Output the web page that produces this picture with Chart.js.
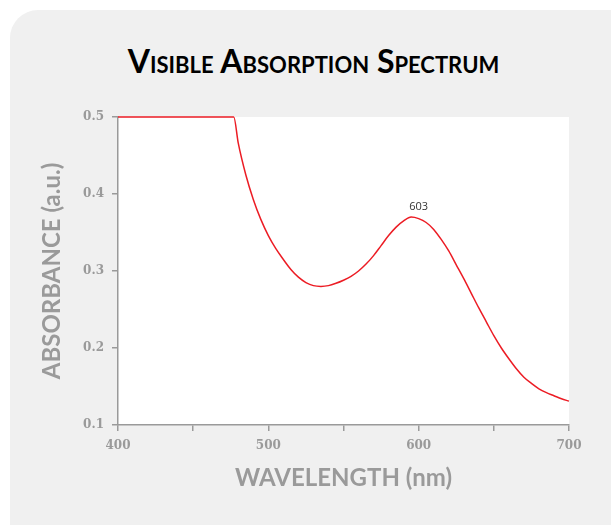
<!DOCTYPE html>
<html>
<head>
<meta charset="utf-8">
<script src="https://cdn.jsdelivr.net/npm/chart.js@4"></script>
<style>
  html, body { margin: 0; padding: 0; background: #fff; width: 611px; height: 525px; overflow: hidden; }
  .panel {
    position: absolute; left: 10px; top: 10px; width: 700px; height: 600px;
    background: #f0f0f0; border-radius: 28px;
  }
  h1 {
    position: absolute; left: 0; width: 627px; top: 41px; margin: 0;
    text-align: center; font-family: Lato, sans-serif; font-weight: 700;
    font-variant: small-caps; font-size: 32px; color: #000; letter-spacing: 0;
  }
  canvas { position: absolute; left: 0; top: 0; }
</style>
</head>
<body>
<div class="panel"></div>
<h1>Visible Absorption Spectrum</h1>
<canvas id="myChart" width="611" height="525"></canvas>
<script>
const wavelengths = [
    400, 420, 440, 460, 477, 480, 485, 490, 495, 500, 505, 510, 515, 520, 525,
    530, 535, 540, 545, 550, 555, 560, 565, 570, 575, 580, 585, 590, 595, 600,
    605, 610, 615, 620, 625, 630, 635, 640, 645, 650, 655, 660, 665, 670, 675,
    680, 685, 690, 695, 700
];
const absorbance = [
    0.500, 0.500, 0.500, 0.500, 0.500, 0.466, 0.425, 0.393, 0.367, 0.346, 0.329, 0.315, 0.302, 0.292, 0.285,
    0.281, 0.280, 0.281, 0.284, 0.288, 0.293, 0.300, 0.309, 0.320, 0.333, 0.346, 0.357, 0.365, 0.370, 0.368,
    0.363, 0.354, 0.341, 0.326, 0.308, 0.290, 0.271, 0.252, 0.234, 0.216, 0.200, 0.186, 0.173, 0.162, 0.154,
    0.147, 0.142, 0.138, 0.134, 0.131
];
const yTicks = [0.1, 0.2, 0.3, 0.4, 0.5];
const xLabelled = [400, 500, 600, 700];
const peakWavelength = 600;
const peakText = '603';

const gray = '#9a9a9a';

const points = wavelengths.map((w, i) => ({x: w, y: absorbance[i]}));

// white plot background + peak annotation
const plotDecor = {
    id: 'plotDecor',
    beforeDraw(chart) {
        const {ctx, chartArea: a} = chart;
        ctx.save();
        ctx.fillStyle = '#fff';
        ctx.fillRect(a.left, a.top, a.right - a.left, a.bottom - a.top);
        ctx.restore();
    },
    afterDatasetsDraw(chart) {
        const {ctx, scales} = chart;
        const i = wavelengths.indexOf(peakWavelength);
        const x = scales.x.getPixelForValue(peakWavelength);
        const y = scales.y.getPixelForValue(absorbance[i]);
        ctx.save();
        ctx.font = '11px "Open Sans", sans-serif';
        ctx.fillStyle = '#333';
        ctx.textAlign = 'center';
        ctx.textBaseline = 'middle';
        ctx.fillText(peakText, x, y - 12);
        ctx.restore();
    }
};

const config = {
    type: 'line',
    data: {
        datasets: [{
            data: points,
            borderColor: '#ec1c24',
            borderWidth: 1.5,
            pointRadius: 0,
            cubicInterpolationMode: 'monotone',
            clip: false
        }]
    },
    options: {
        responsive: false,
        animation: false,
        events: [],
        layout: { padding: { top: 117, right: 42, left: 0, bottom: 0 } },
        plugins: { legend: { display: false }, tooltip: { enabled: false } },
        scales: {
            x: {
                type: 'linear', min: 400, max: 700,
                afterFit(scale) { scale.height = 100; },
                border: { color: gray, width: 1.5 },
                grid: { drawOnChartArea: false, drawTicks: true, tickLength: 6, color: gray, lineWidth: 1.5 },
                ticks: {
                    stepSize: 50, padding: 8, color: gray,
                    font: { family: '"DejaVu Serif", serif', weight: 'bold', size: 12 },
                    maxRotation: 0,
                    callback: v => xLabelled.includes(v) ? String(v) : ''
                },
                title: {
                    display: true, text: 'WAVELENGTH (nm)', color: gray,
                    font: { family: 'Lato, sans-serif', weight: 'bold', size: 24, lineHeight: 1 },
                    padding: { top: 0, bottom: 35 }
                }
            },
            y: {
                type: 'linear', min: 0.1, max: 0.5,
                afterFit(scale) { scale.width = 118; },
                afterBuildTicks(scale) { scale.ticks = yTicks.map(v => ({value: v})); },
                border: { color: gray, width: 1.5 },
                grid: { drawOnChartArea: false, drawTicks: true, tickLength: 6, color: gray, lineWidth: 1.5 },
                ticks: {
                    padding: 8, color: gray,
                    font: { family: '"DejaVu Serif", serif', weight: 'bold', size: 12 },
                    callback: v => v.toFixed(1)
                },
                title: {
                    display: true, text: 'ABSORBANCE (a.u.)', color: gray,
                    font: { family: 'Lato, sans-serif', weight: 'bold', size: 24, lineHeight: 1 },
                    padding: { top: 40, bottom: 0 }
                }
            }
        }
    },
    plugins: [plotDecor]
};

const myChart = new Chart(document.getElementById('myChart'), config);
</script>
</body>
</html>
